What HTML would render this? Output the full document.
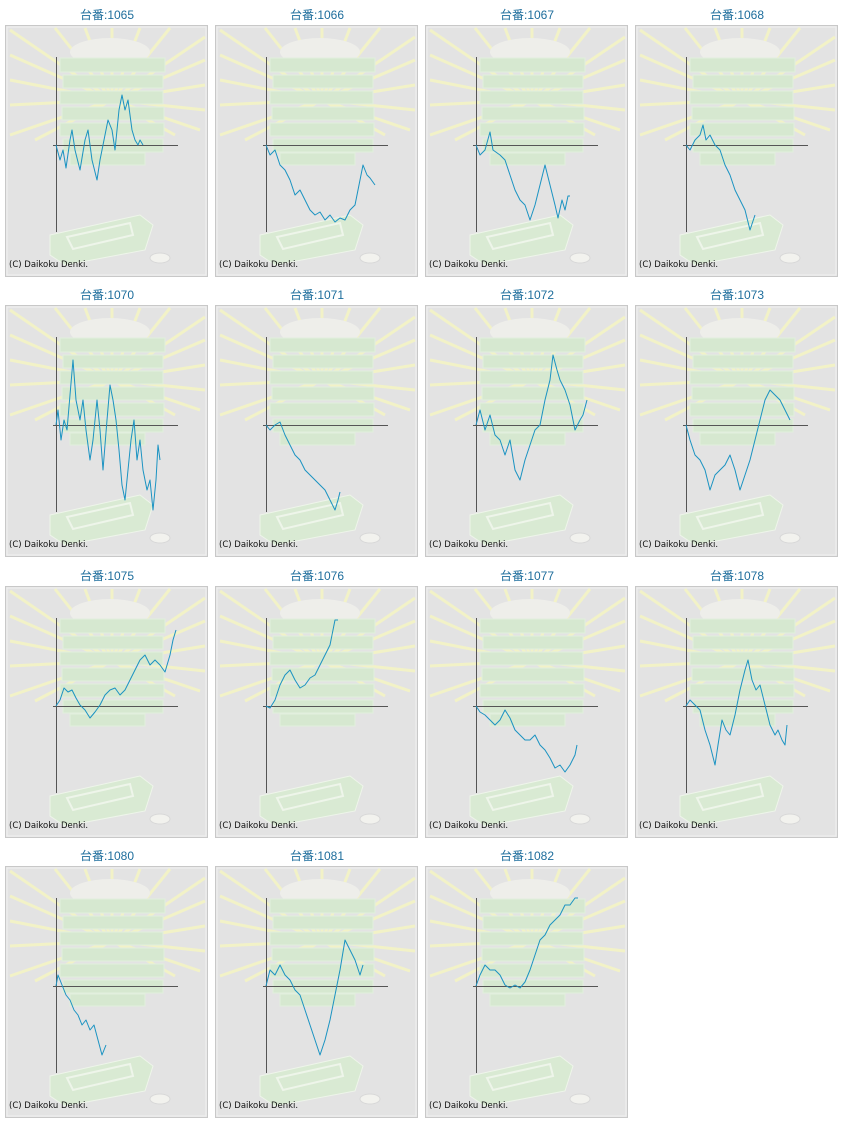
<!DOCTYPE html>
<html><head><meta charset="utf-8"><style>
html,body{margin:0;padding:0;background:#fff;}
svg{display:block;}
</style></head><body>
<svg width="844" height="1125" viewBox="0 0 844 1125" xmlns="http://www.w3.org/2000/svg">
<defs>
<g id="bg">
<rect x="0.5" y="0.5" width="202" height="251" fill="#e3e3e3" stroke="#c8c8c8"/>
<rect x="2" y="2" width="199" height="248" fill="none" stroke="#f0f0f0"/>
<g stroke="#f4f4c4" stroke-width="3" opacity="0.9">
<line x1="107" y1="75" x2="5" y2="5"/><line x1="107" y1="75" x2="50" y2="3"/>
<line x1="107" y1="75" x2="80" y2="3"/><line x1="107" y1="75" x2="107" y2="3"/>
<line x1="107" y1="75" x2="135" y2="3"/><line x1="107" y1="75" x2="165" y2="3"/>
<line x1="107" y1="75" x2="200" y2="12"/><line x1="107" y1="75" x2="200" y2="35"/>
<line x1="107" y1="75" x2="200" y2="60"/><line x1="107" y1="75" x2="200" y2="85"/>
<line x1="107" y1="75" x2="195" y2="105"/><line x1="107" y1="75" x2="5" y2="30"/>
<line x1="107" y1="75" x2="5" y2="55"/><line x1="107" y1="75" x2="5" y2="80"/>
<line x1="107" y1="75" x2="5" y2="110"/><line x1="107" y1="75" x2="30" y2="115"/>
<line x1="107" y1="75" x2="170" y2="110"/>
</g>
<ellipse cx="105" cy="27" rx="40" ry="14" fill="#eeeeea"/>
<g fill="#d6e8d0" stroke="#e2efde" stroke-width="1">
<rect x="55" y="33" width="105" height="14"/>
<rect x="58" y="50" width="100" height="13"/>
<rect x="55" y="66" width="103" height="13"/>
<rect x="57" y="82" width="102" height="13"/>
<rect x="55" y="98" width="104" height="13"/>
<rect x="58" y="114" width="100" height="13"/>
<rect x="65" y="128" width="75" height="12"/>
</g>
<path d="M45 210 L135 190 L148 200 L140 225 L60 240 L45 230 Z" fill="#d9ead3" stroke="#eef5ea"/>
<path d="M62 212 L125 198 L128 210 L68 224 Z" fill="none" stroke="#eef5ea" stroke-width="2"/>
<ellipse cx="155" cy="233" rx="10" ry="5" fill="#f2f2ee" stroke="#d8d8d8"/>
<g stroke="#555" stroke-width="1">
<line x1="51.5" y1="32" x2="51.5" y2="207"/>
<line x1="48" y1="120.5" x2="173" y2="120.5"/>
</g>
<text x="4" y="242" font-family="'DejaVu Sans',sans-serif" font-size="8.5" fill="#111">(C) Daikoku Denki.</text>
</g>
</defs>
<g font-family="'Liberation Sans','Noto Sans CJK JP',sans-serif" font-size="12" fill="#1d6d9c" text-anchor="middle">
<text x="107" y="19">台番:1065</text><text x="317" y="19">台番:1066</text><text x="527" y="19">台番:1067</text><text x="737" y="19">台番:1068</text>
<text x="107" y="299">台番:1070</text><text x="317" y="299">台番:1071</text><text x="527" y="299">台番:1072</text><text x="737" y="299">台番:1073</text>
<text x="107" y="580">台番:1075</text><text x="317" y="580">台番:1076</text><text x="527" y="580">台番:1077</text><text x="737" y="580">台番:1078</text>
<text x="107" y="860">台番:1080</text><text x="317" y="860">台番:1081</text><text x="527" y="860">台番:1082</text>
</g>
<use href="#bg" x="5" y="25"/><use href="#bg" x="215" y="25"/><use href="#bg" x="425" y="25"/><use href="#bg" x="635" y="25"/>
<use href="#bg" x="5" y="305"/><use href="#bg" x="215" y="305"/><use href="#bg" x="425" y="305"/><use href="#bg" x="635" y="305"/>
<use href="#bg" x="5" y="586"/><use href="#bg" x="215" y="586"/><use href="#bg" x="425" y="586"/><use href="#bg" x="635" y="586"/>
<use href="#bg" x="5" y="866"/><use href="#bg" x="215" y="866"/><use href="#bg" x="425" y="866"/>
<g fill="none" stroke="#1b93c2" stroke-width="1" stroke-linejoin="round">
<polyline points="56,145 60,160 63,150 66,168 70,140 72,130 75,150 80,170 85,140 88,130 92,160 97,180 100,160 104,140 108,120 112,130 115,150 119,110 122,95 125,110 128,100 132,130 135,140 138,145 140,140 143,145"/>
<polyline points="266,145 270,155 275,150 280,165 285,170 290,180 295,195 300,190 305,200 310,210 315,215 320,212 325,220 330,215 335,222 340,218 345,220 350,210 355,205 360,180 363,165 367,175 370,178 375,185"/>
<polyline points="476,145 480,155 485,150 490,132 493,150 500,155 505,160 510,175 515,190 520,200 525,205 530,220 535,205 540,185 545,165 550,185 555,205 558,218 562,200 565,210 568,196 570,196"/>
<polyline points="686,145 690,150 695,140 700,135 703,125 706,140 710,135 715,145 720,150 725,165 730,175 735,190 740,200 745,210 750,230 755,215"/>
<polyline points="56,425 58,410 61,440 64,420 67,430 70,395 73,360 76,400 80,420 83,400 86,430 90,460 93,440 97,400 100,430 103,470 107,420 110,385 113,400 116,420 119,450 122,485 125,500 128,470 131,440 134,420 137,460 140,440 143,470 147,490 150,480 153,510 156,480 158,445 160,460"/>
<polyline points="266,425 270,430 275,425 280,422 285,435 290,445 295,455 300,460 305,470 310,475 315,480 320,485 325,490 330,500 335,510 338,500 340,492"/>
<polyline points="476,425 480,410 485,430 490,415 495,435 500,440 505,455 510,440 515,470 520,480 525,460 530,445 535,430 540,425 545,400 550,380 553,355 557,370 560,380 565,390 570,405 575,430 580,420 583,415 587,400"/>
<polyline points="686,425 690,440 695,455 700,460 705,470 710,490 715,475 720,470 725,465 730,455 735,470 740,490 745,475 750,460 755,440 760,420 765,400 770,390 775,395 780,400 785,410 790,420"/>
<polyline points="56,706 60,700 64,688 68,692 72,690 76,698 80,705 85,710 90,718 95,712 100,705 105,695 110,690 115,688 120,695 125,690 130,680 135,670 140,660 145,655 150,665 155,660 160,665 165,672 170,655 173,640 176,630"/>
<polyline points="266,706 270,708 275,700 280,685 285,675 290,670 295,680 300,688 305,685 310,678 315,675 320,665 325,655 330,645 335,620 338,620"/>
<polyline points="476,706 480,712 485,715 490,720 495,725 500,720 505,710 510,718 515,730 520,735 525,740 530,740 535,735 540,745 545,750 550,758 555,768 560,765 565,772 570,765 575,755 577,745"/>
<polyline points="686,706 690,700 695,705 700,710 705,730 710,745 715,765 718,745 722,720 726,730 730,735 735,715 740,690 745,670 748,660 752,680 756,690 760,685 765,705 770,725 775,735 778,730 782,740 785,745 787,725"/>
<polyline points="56,986 58,975 62,985 66,995 70,1000 74,1010 78,1015 82,1025 86,1020 90,1030 94,1025 98,1040 102,1055 106,1045"/>
<polyline points="266,986 270,970 275,975 280,965 285,975 290,980 295,990 300,995 305,1010 310,1025 315,1040 320,1055 325,1040 330,1020 335,995 340,970 345,940 350,950 355,960 360,975 363,965"/>
<polyline points="476,986 480,975 485,965 490,970 495,970 500,975 505,985 510,988 515,985 520,988 525,982 530,970 535,955 540,940 545,935 550,925 555,920 560,915 565,905 570,905 575,898 578,898"/>
</g>
</svg>
</body></html>
